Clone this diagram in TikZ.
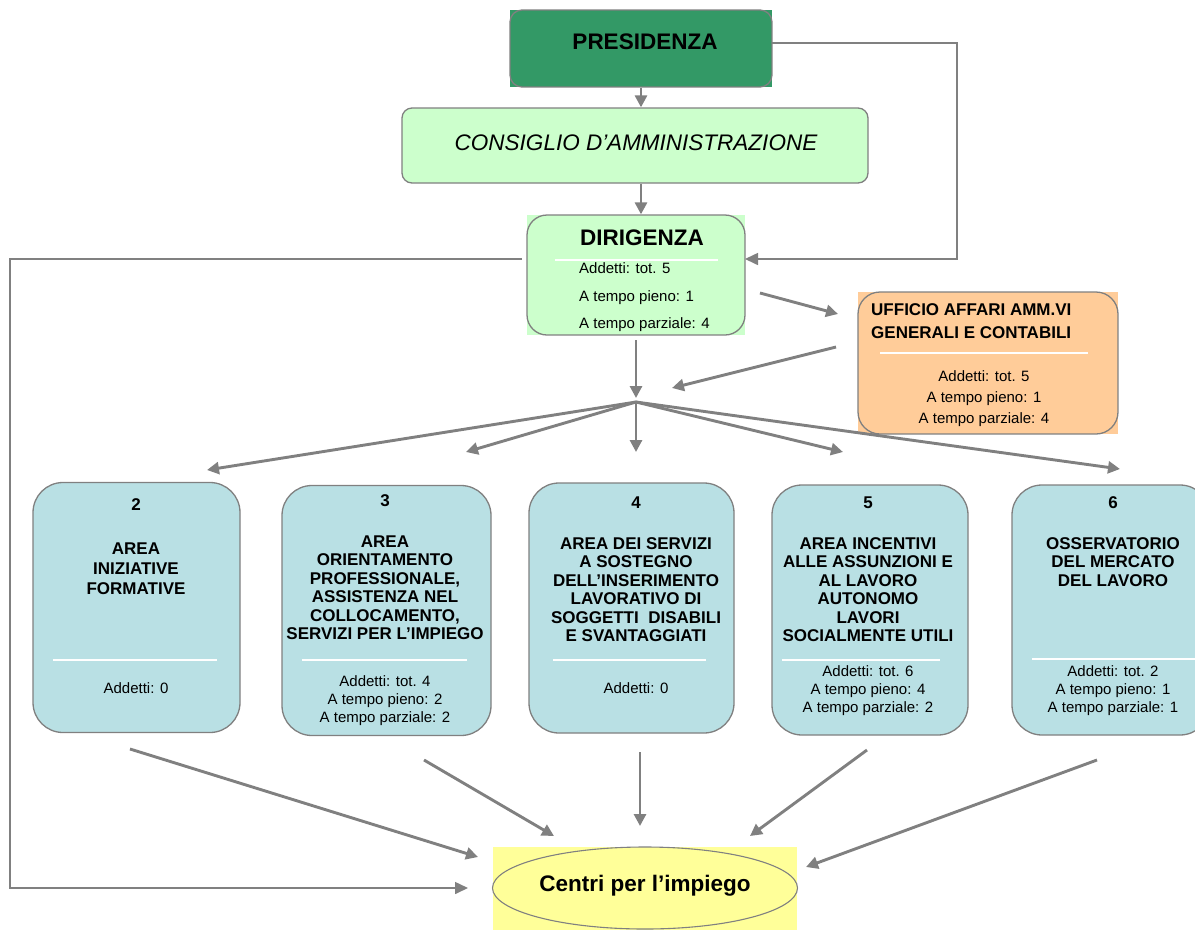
\documentclass[tikz,border=0pt]{standalone}
\usepackage{fontspec}
\setmainfont{Liberation Sans}
\usetikzlibrary{arrows.meta,shapes.geometric}
\definecolor{presgreen}{HTML}{339966}
\definecolor{palegreen}{HTML}{CCFFCC}
\definecolor{peach}{HTML}{FFCC99}
\definecolor{areablue}{HTML}{B9E0E4}
\definecolor{paleyellow}{HTML}{FFFF99}
\definecolor{linegray}{HTML}{808080}
\begin{document}
\begin{tikzpicture}[x=1pt,y=-1pt,
  frame/.style={draw=linegray, line width=1.3pt, inner sep=0pt},
  areabox/.style={frame, fill=areablue, rounded corners=30pt, minimum width=#1, minimum height=250pt},
  bigtxt/.style={font=\fontsize{22.5}{26}\selectfont\bfseries},
  ttl/.style={font=\fontsize{17}{18.5}\selectfont\bfseries, align=center, inner sep=0pt},
  small/.style={font=\fontsize{15}{18}\selectfont, align=center, inner sep=0pt},
  sep/.style={draw=white, line width=1.3pt},
  conn/.style={draw=linegray, line width=2.9pt, -{Triangle[length=12pt,width=12pt]}},
  thin/.style={draw=linegray, line width=1.6pt},
  thinarrow/.style={thin, -{Triangle[length=13pt,width=12pt]}}
]
\useasboundingbox (0,0) rectangle (1195,930);

% --- top: presidenza, consiglio, dirigenza
\fill[presgreen] (510,10) rectangle (772,87);
\node[frame, rounded corners=12pt, minimum width=262pt, minimum height=77pt] (pres) at (641,48.5) {};
\node[bigtxt] (prestxt) at (645,42) {PRESIDENZA};

\node[frame, fill=palegreen, rounded corners=10pt, minimum width=466pt, minimum height=75pt] (cons) at (635,145.5) {};
\node[font=\fontsize{22.5}{26}\selectfont\itshape] (constxt) at (636,143) {CONSIGLIO D’AMMINISTRAZIONE};

\fill[palegreen] (527,215) rectangle (745,335);
\node[frame, rounded corners=20pt, minimum width=218pt, minimum height=120pt] (dir) at (636,275) {};
\node[bigtxt] (dirtxt) at (642,238) {DIRIGENZA};
\draw[sep] (555,260) -- (718,260);
\node[font=\fontsize{15}{27.5}\selectfont, align=left, inner sep=0pt, anchor=west] (dirstaff) at (579,297.5)
  {Addetti: tot. 5\\A tempo pieno: 1\\A tempo parziale: 4};

% --- ufficio affari amministrativi
\fill[peach] (858,292) rectangle (1118,434);
\node[frame, rounded corners=22pt, minimum width=260pt, minimum height=142pt] (uff) at (988,363) {};
\node[font=\fontsize{17}{23}\selectfont\bfseries, align=left, inner sep=0pt, anchor=west] (ufftxt) at (871,321.5)
  {UFFICIO AFFARI AMM.VI\\GENERALI E CONTABILI};
\draw[sep] (880,353) -- (1088,353);
\node[font=\fontsize{15}{21}\selectfont, align=center, inner sep=0pt] (uffstaff) at (984,399)
  {Addetti: tot. 5\\A tempo pieno: 1\\A tempo parziale: 4};

% --- areas
\node[areabox=207pt] (b2) at (136.5,607.5) {};
\node[areabox=209pt] (b3) at (386.5,610.5) {};
\node[areabox=205pt] (b4) at (631.5,608) {};
\node[areabox=196pt] (b5) at (870,610) {};
\node[areabox=198pt] (b6) at (1111,610) {};

\node[ttl] (n2) at (136,505) {2};
\node[ttl, font=\fontsize{17}{20}\selectfont\bfseries] (t2) at (136,569) {AREA\\INIZIATIVE\\FORMATIVE};
\draw[sep] (53,660) -- (217,660);
\node[small] (s2) at (136,688) {Addetti: 0};

\node[ttl] (n3) at (385,501) {3};
\node[ttl] (t3) at (385,587.5) {AREA\\ORIENTAMENTO\\PROFESSIONALE,\\ASSISTENZA NEL\\COLLOCAMENTO,\\SERVIZI PER L’IMPIEGO};
\draw[sep] (302,660) -- (467,660);
\node[small] (s3) at (385,700.5) {Addetti: tot. 4\\A tempo pieno: 2\\A tempo parziale: 2};

\node[ttl] (n4) at (636,503) {4};
\node[ttl] (t4) at (636,589.5) {AREA DEI SERVIZI\\A SOSTEGNO\\DELL’INSERIMENTO\\LAVORATIVO DI\\SOGGETTI\ \ DISABILI\\E SVANTAGGIATI};
\draw[sep] (553,660) -- (706,660);
\node[small] (s4) at (636,688) {Addetti: 0};

\node[ttl] (n5) at (868,503) {5};
\node[ttl] (t5) at (868,589.5) {AREA INCENTIVI\\ALLE ASSUNZIONI E\\AL LAVORO\\AUTONOMO\\LAVORI\\SOCIALMENTE UTILI};
\draw[sep] (782,660) -- (940,660);
\node[small] (s5) at (868,690.5) {Addetti: tot. 6\\A tempo pieno: 4\\A tempo parziale: 2};

\node[ttl] (n6) at (1113,503) {6};
\node[ttl] (t6) at (1113,562) {OSSERVATORIO\\DEL MERCATO\\DEL LAVORO};
\draw[sep] (1032,659) -- (1195,659);
\node[small] (s6) at (1113,690.5) {Addetti: tot. 2\\A tempo pieno: 1\\A tempo parziale: 1};

% --- centri per l'impiego
\fill[paleyellow] (493,847) rectangle (797,930);
\node[draw=linegray, line width=1.1pt, ellipse, minimum width=305pt, minimum height=82pt, inner sep=0pt] (cpi) at (645,888) {};
\node[bigtxt] (cpitxt) at (645,886) {Centri per l’impiego};

% --- connectors
\draw[conn] (pres.south) -- (pres.south |- cons.north);
\draw[conn] (cons.south -| pres.south) -- (pres.south |- dir.north);

\coordinate (presout) at (772,43);
\coordinate (loopcorner) at (957,43);
\coordinate (dirin) at (745,259);
\draw[thinarrow] (presout) -- (loopcorner) |- (dirin);

\coordinate (dirout) at (522,259);
\coordinate (leftcorner) at (10,259);
\coordinate (cpiin) at (468,888);
\draw[thinarrow] (dirout) -- (leftcorner) |- (cpiin);

\coordinate (d2u0) at (760,293);
\coordinate (d2u1) at (838,314);
\draw[conn] (d2u0) -- (d2u1);
\coordinate (u2h0) at (836,347);
\coordinate (u2h1) at (672,388);
\draw[conn] (u2h0) -- (u2h1);

\coordinate (hub) at (636,402);
\coordinate (dirdown) at (636,340);
\draw[conn] (dirdown) -- (636,398);
\foreach \tx/\ty in {207/470, 466/452, 636/452, 843/452, 1120/469}
  \draw[conn] (hub) -- (\tx,\ty);

\foreach \sx/\sy/\ex/\ey in {130/749/478/857, 424/760/554/836, 640/752/640/826, 867/750/750/836, 1097/760/806/867}
  \draw[conn] (\sx,\sy) -- (\ex,\ey);
\end{tikzpicture}
\end{document}
